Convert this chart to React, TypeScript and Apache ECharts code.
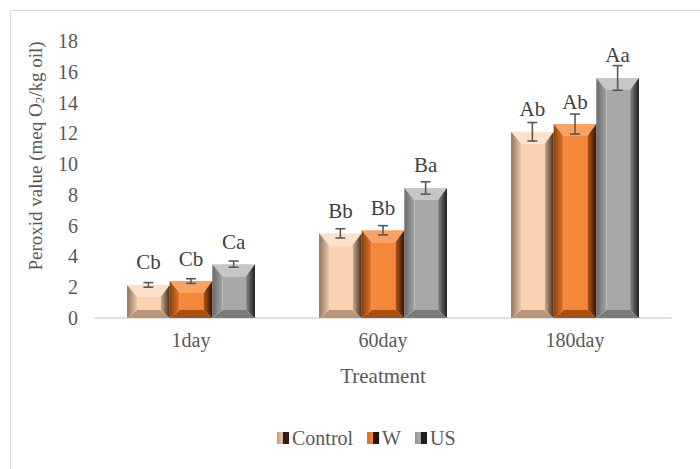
import React, { useEffect, useRef } from "react";
import * as echarts from "echarts";

const categories = ["1day", "60day", "180day"];
const seriesNames = ["Control", "W", "US"];
const controlValues = [2.15, 5.5, 12.1];
const wValues = [2.4, 5.7, 12.6];
const usValues = [3.5, 8.45, 15.6];
const controlErr = [0.15, 0.3, 0.6];
const wErr = [0.15, 0.3, 0.65];
const usErr = [0.2, 0.4, 0.8];
const controlLabels = ["Cb", "Bb", "Ab"];
const wLabels = ["Cb", "Bb", "Ab"];
const usLabels = ["Ca", "Ba", "Aa"];
const yTicks = [0, 2, 4, 6, 8, 10, 12, 14, 16, 18];
const yTitle = "Peroxid value (meq O{sub|2}/kg oil)";
const xTitle = "Treatment";

const FONT = "Liberation Serif";

const palettes = [
  { center: "#FBD3B3", top: "#FCE2CB", bottom: "#B8967E", left: ["#8E7262", "#EEC6A6"], right: ["#D4AC8C", "#3E2C22"], legend: ["#B8957E", "#F6CDAE", "#2E2018"] },
  { center: "#F5873A", top: "#F9A263", bottom: "#A85016", left: ["#8A4010", "#E57A2C"], right: ["#B85C1A", "#2A1404"], legend: ["#C56A28", "#F08A3C", "#2A1404"] },
  { center: "#A8A8A8", top: "#C6C6C6", bottom: "#7A7A7A", left: ["#6A6A6A", "#A2A2A2"], right: ["#8E8E8E", "#1A1A1A"], legend: ["#909090", "#B0B0B0", "#1E1E1E"] },
];

const valuesBySeries = [controlValues, wValues, usValues];
const errBySeries = [controlErr, wErr, usErr];
const labelsBySeries = [controlLabels, wLabels, usLabels];

const hGrad = (a: string, b: string) => ({
  type: "linear", x: 0, y: 0, x2: 1, y2: 0,
  colorStops: [{ offset: 0, color: a }, { offset: 1, color: b }],
});

function makeRender(sIdx: number) {
  const p = palettes[sIdx];
  return (params: any, api: any) => {
    const ci = api.value(0);
    const v = api.value(1);
    const e = api.value(2);
    const catW = api.size([1, 0])[0];
    const bw = catW * 0.222;
    const base = api.coord([ci, 0]);
    const topPt = api.coord([ci, v]);
    const cx = base[0] + (sIdx - 1) * bw;
    const x0 = cx - bw / 2;
    const x1 = cx + bw / 2;
    const y0 = topPt[1];
    const y1 = base[1];
    const bt = 12, bb = 8, bl = 10, br = 9;
    const eTop = api.coord([ci, v + e])[1];
    const eBot = api.coord([ci, v - e])[1];
    const cap = 5;
    const errStyle = { stroke: "#595959", lineWidth: 1.6 };
    return {
      type: "group",
      children: [
        { type: "rect", shape: { x: x0 + bl, y: y0 + bt, width: bw - bl - br, height: Math.max(0, y1 - y0 - bt - bb) }, style: { fill: p.center } },
        { type: "polygon", shape: { points: [[x0, y0], [x1, y0], [x1 - br, y0 + bt], [x0 + bl, y0 + bt]] }, style: { fill: p.top } },
        { type: "polygon", shape: { points: [[x0, y1], [x1, y1], [x1 - br, y1 - bb], [x0 + bl, y1 - bb]] }, style: { fill: p.bottom } },
        { type: "polygon", shape: { points: [[x0, y0], [x0 + bl, y0 + bt], [x0 + bl, y1 - bb], [x0, y1]] }, style: { fill: hGrad(p.left[0], p.left[1]) } },
        { type: "polygon", shape: { points: [[x1, y0], [x1 - br, y0 + bt], [x1 - br, y1 - bb], [x1, y1]] }, style: { fill: hGrad(p.right[0], p.right[1]) } },
        { type: "line", shape: { x1: cx, y1: eTop, x2: cx, y2: eBot }, style: errStyle },
        { type: "line", shape: { x1: cx - cap, y1: eTop, x2: cx + cap, y2: eTop }, style: errStyle },
        { type: "line", shape: { x1: cx - cap, y1: eBot, x2: cx + cap, y2: eBot }, style: errStyle },
        {
          type: "text",
          x: cx,
          y: y0 - 12,
          style: {
            text: labelsBySeries[sIdx][params.dataIndex],
            fill: "#404040",
            fontSize: 21,
            fontFamily: FONT,
            align: "center",
            verticalAlign: "bottom",
          },
        },
      ],
    };
  };
}

export default function App() {
  const ref = useRef<HTMLDivElement>(null);
  useEffect(() => {
    document.body.style.margin = "0";
    const chart = echarts.init(ref.current!, null, { renderer: "svg" });
    const series = seriesNames.map((name, s) => ({
      type: "custom",
      name,
      renderItem: makeRender(s),
      itemStyle: { color: palettes[s].center },
      data: categories.map((_, i) => [i, valuesBySeries[s][i], errBySeries[s][i]]),
      encode: { x: 0, y: 1 },
      clip: false,
    }));
    chart.setOption({
      animation: false,
      textStyle: { fontFamily: FONT },
      graphic: [
        { type: "rect", shape: { x: 10.5, y: 10.5, width: 720, height: 480 }, style: { fill: "none", stroke: "#D9D9D9", lineWidth: 1 } },
        {
          type: "text",
          x: 35,
          y: 156,
          rotation: Math.PI / 2,
          style: {
            text: yTitle,
            fill: "#595959",
            fontSize: 19,
            fontFamily: FONT,
            align: "center",
            verticalAlign: "middle",
            rich: { sub: { fontSize: 13, fill: "#595959", fontFamily: FONT, verticalAlign: "bottom", padding: [9, 0, 0, 0] } },
          },
        },
      ],
      grid: { left: 95, right: 29, top: 41, bottom: 151 },
      legend: {
        top: 423,
        left: 272,
        itemWidth: 12,
        itemHeight: 12,
        itemGap: 14,
        textStyle: { fontSize: 20, color: "#595959", fontFamily: FONT },
        data: seriesNames.map((name, s) => ({
          name,
          icon: "rect",
          textStyle: { fontSize: 20, color: "#595959", fontFamily: FONT, padding: [0, 0, 0, -2] },
          itemStyle: {
            color: {
              type: "linear", x: 0, y: 0, x2: 1, y2: 0,
              colorStops: [
                { offset: 0, color: palettes[s].legend[0] },
                { offset: 0.45, color: palettes[s].legend[1] },
                { offset: 0.5, color: palettes[s].legend[2] },
                { offset: 1, color: palettes[s].legend[2] },
              ],
            },
          },
        })),
      },
      xAxis: {
        type: "category",
        data: categories,
        name: xTitle,
        nameLocation: "middle",
        nameGap: 47,
        nameTextStyle: { fontSize: 21, color: "#595959", fontFamily: FONT },
        axisLine: { lineStyle: { color: "#D9D9D9", width: 1.5 } },
        axisTick: { show: false },
        axisLabel: { fontSize: 20, color: "#595959", margin: 12, fontFamily: FONT },
      },
      yAxis: {
        type: "value",
        min: yTicks[0],
        max: yTicks[yTicks.length - 1],
        interval: 2,
        splitLine: { show: false },
        axisLine: { show: false },
        axisTick: { show: false },
        axisLabel: { fontSize: 20, color: "#595959", margin: 17, fontFamily: FONT },
      },
      series,
    });
    return () => chart.dispose();
  }, []);
  return <div ref={ref} style={{ width: 700, height: 469 }} />;
}
